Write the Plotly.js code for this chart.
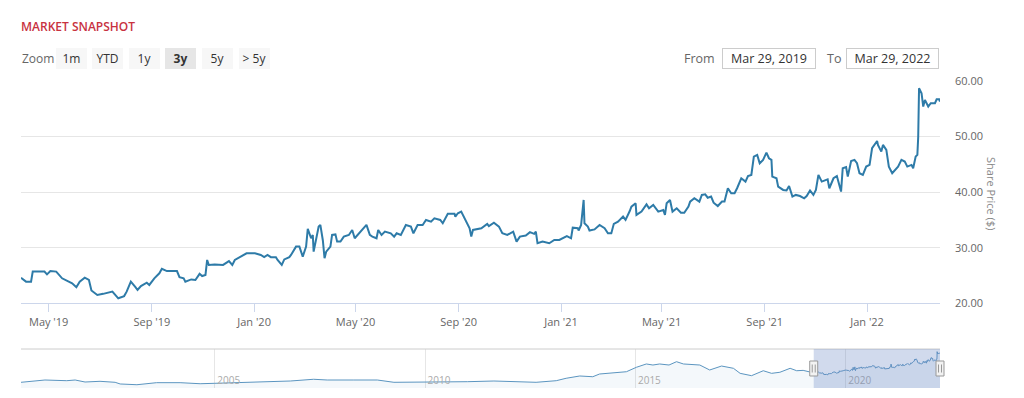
<!DOCTYPE html>
<html>
<head>
<meta charset="utf-8">
<script src="https://cdn.plot.ly/plotly-3.0.1.min.js"></script>
<style>
  html, body { margin: 0; padding: 0; background: #ffffff; }
  #chart { width: 1024px; height: 398px; }
</style>
</head>
<body>
<div id="chart"></div>
<script>
// ---------------- DATA ----------------
const chartTitle = "MARKET SNAPSHOT";
const yAxisTitle = "Share Price ($)";
const zoomButtons = ["1m", "YTD", "1y", "3y", "5y", "> 5y"];
const activeButton = "3y";
const rangeStart = "2019-03-29";
const rangeEnd = "2022-03-29";
const rangeStartLabel = "Mar 29, 2019";
const rangeEndLabel = "Mar 29, 2022";
const yTicks = [20, 30, 40, 50, 60];

// Main series (3y window)
const dates = [
"2019-03-29","2019-04-04","2019-04-10","2019-04-12","2019-04-26","2019-04-29","2019-05-03","2019-05-10","2019-05-17","2019-05-23",
"2019-05-29","2019-06-03","2019-06-07","2019-06-13","2019-06-18","2019-06-21","2019-06-28","2019-07-05","2019-07-16","2019-07-23",
"2019-07-30","2019-08-02","2019-08-07","2019-08-12","2019-08-15","2019-08-19","2019-08-26","2019-08-29","2019-09-04","2019-09-10",
"2019-09-13","2019-09-19","2019-10-01","2019-10-04","2019-10-09","2019-10-11","2019-10-18","2019-10-23","2019-10-28","2019-10-31",
"2019-11-04","2019-11-06","2019-11-08","2019-11-15","2019-11-25","2019-12-02","2019-12-06","2019-12-09","2019-12-16","2019-12-23",
"2020-01-02","2020-01-09","2020-01-13","2020-01-17","2020-01-21","2020-01-27","2020-01-29","2020-02-03","2020-02-06","2020-02-12",
"2020-02-14","2020-02-20","2020-02-24","2020-02-28","2020-03-03","2020-03-05","2020-03-09","2020-03-11","2020-03-12","2020-03-16",
"2020-03-18","2020-03-20","2020-03-23","2020-03-25","2020-03-27","2020-04-01","2020-04-03","2020-04-07","2020-04-09","2020-04-13",
"2020-04-17","2020-04-23","2020-04-27","2020-04-30","2020-05-05","2020-05-11","2020-05-14","2020-05-18","2020-05-21","2020-05-26",
"2020-05-28","2020-06-01","2020-06-05","2020-06-12","2020-06-16","2020-06-19","2020-06-24","2020-06-30","2020-07-06","2020-07-09",
"2020-07-14","2020-07-20","2020-07-24","2020-07-30","2020-08-03","2020-08-10","2020-08-13","2020-08-19","2020-08-27","2020-08-28",
"2020-08-31","2020-09-04","2020-09-08","2020-09-09","2020-09-14","2020-09-16","2020-09-18","2020-09-28","2020-10-05","2020-10-07",
"2020-10-13","2020-10-19","2020-10-23","2020-10-29","2020-11-05","2020-11-09","2020-11-13","2020-11-20","2020-11-25","2020-11-30",
"2020-12-02","2020-12-04","2020-12-10","2020-12-18","2020-12-24","2020-12-30","2021-01-05","2021-01-08","2021-01-13","2021-01-15",
"2021-01-21","2021-01-22","2021-01-25","2021-01-28","2021-01-29","2021-02-02","2021-02-04","2021-02-10","2021-02-16","2021-02-22",
"2021-02-26","2021-03-02","2021-03-05","2021-03-10","2021-03-16","2021-03-19","2021-03-24","2021-03-26","2021-03-31","2021-04-01",
"2021-04-07","2021-04-13","2021-04-16","2021-04-21","2021-04-27","2021-05-03","2021-05-05","2021-05-07","2021-05-11","2021-05-14",
"2021-05-19","2021-05-24","2021-05-28","2021-06-02","2021-06-04","2021-06-09","2021-06-15","2021-06-18","2021-06-22","2021-06-25",
"2021-06-29","2021-07-02","2021-07-07","2021-07-12","2021-07-15","2021-07-19","2021-07-23","2021-07-27","2021-07-30","2021-08-04",
"2021-08-09","2021-08-12","2021-08-16","2021-08-19","2021-08-23","2021-08-26","2021-08-30","2021-09-03","2021-09-06","2021-09-09",
"2021-09-10","2021-09-15","2021-09-17","2021-09-23","2021-09-27","2021-09-30","2021-10-04","2021-10-08","2021-10-13","2021-10-18",
"2021-10-21","2021-10-25","2021-10-29","2021-11-01","2021-11-04","2021-11-08","2021-11-15","2021-11-17","2021-11-22","2021-11-26",
"2021-12-01","2021-12-03","2021-12-07","2021-12-09","2021-12-13","2021-12-17","2021-12-20","2021-12-23","2021-12-27","2021-12-31",
"2022-01-04","2022-01-07","2022-01-13","2022-01-14","2022-01-18","2022-01-20","2022-01-24","2022-01-27","2022-01-31","2022-02-03",
"2022-02-07","2022-02-11","2022-02-15","2022-02-18","2022-02-23","2022-02-25","2022-02-28","2022-03-02","2022-03-03","2022-03-04",
"2022-03-07","2022-03-09","2022-03-11","2022-03-15","2022-03-18","2022-03-23","2022-03-25","2022-03-28","2022-03-29"
];
const prices = [
24.6,23.9,23.9,25.7,25.7,25.2,25.8,25.7,24.5,24.1,
23.6,22.9,23.9,24.6,24.2,22.3,21.5,21.7,22.1,20.9,
21.3,22.1,23.9,23.0,22.4,23.1,23.7,23.3,24.5,25.4,
26.2,25.8,25.8,24.7,24.5,23.9,24.3,24.2,25.3,24.9,
25.1,27.8,26.9,27.0,26.9,27.6,26.9,27.8,28.4,29.0,
29.0,28.7,28.3,28.7,28.3,28.3,27.8,26.9,27.9,28.3,
28.7,30.2,30.2,28.4,30.2,33.4,31.7,32.3,29.3,32.0,
33.8,34.1,31.3,28.1,29.3,30.2,32.3,32.4,31.1,31.1,
32.0,32.3,33.2,31.7,32.6,33.5,34.1,32.3,32.0,31.7,
33.2,32.3,32.9,32.6,32.0,32.6,32.3,34.1,33.8,32.6,
34.1,34.1,35.0,34.7,35.3,35.0,34.4,36.1,36.1,35.6,
36.2,36.5,35.3,35.0,33.5,32.0,33.2,33.5,34.3,33.9,
34.5,33.8,32.6,32.3,32.9,31.1,32.0,32.2,32.8,32.5,
32.9,30.8,31.1,30.8,31.4,31.4,31.9,32.1,31.7,33.6,
33.5,33.1,34.1,38.6,34.4,33.8,33.1,33.3,34.1,33.5,
32.6,32.6,34.3,34.7,35.6,35.0,36.6,37.4,38.0,35.9,
36.5,37.8,37.1,37.7,36.5,36.8,35.9,38.0,38.6,36.5,
37.1,36.3,36.3,37.4,38.3,38.9,38.3,39.5,39.6,39.0,
39.2,38.1,37.5,38.3,38.3,40.7,39.8,39.8,40.7,42.5,
41.9,42.9,43.1,46.4,46.7,45.2,45.8,47.1,46.1,45.8,
42.8,42.5,41.0,40.4,40.3,41.1,39.2,39.5,39.3,38.9,
39.3,40.3,39.5,40.4,43.1,41.9,42.3,40.7,42.5,42.9,
40.1,44.3,44.5,42.8,45.6,45.8,45.2,43.4,43.1,44.6,
44.9,47.9,49.2,48.5,47.3,48.5,47.6,44.6,43.4,44.0,
44.6,45.8,45.5,44.6,44.9,44.3,46.4,46.7,49.9,58.7,
57.8,55.4,56.6,55.4,56.0,56.0,56.7,56.7,56.3
];

// Earlier history shown only in the navigator
const historyDates = [
"2000-05-26","2000-11-06","2000-12-20","2001-06-27","2001-09-08","2001-12-03","2002-04-12","2002-08-21","2002-10-04","2003-02-26",
"2003-08-16","2004-03-07","2004-08-28","2005-01-03","2005-08-11","2006-04-03","2006-10-20","2007-05-10","2007-09-05","2008-04-23",
"2008-11-13","2009-04-06","2009-10-26","2010-03-18","2011-01-03","2011-08-22","2012-02-02","2012-08-22","2013-02-13","2013-05-10",
"2013-09-05","2013-12-27","2014-02-24","2014-06-20","2014-10-15","2015-01-09","2015-04-06","2015-06-02","2015-07-30","2015-10-20",
"2015-12-24","2016-02-22","2016-07-13","2016-10-07","2017-01-18","2017-05-01","2017-06-28","2017-10-05","2018-01-15","2018-03-28",
"2018-06-08","2018-09-05","2018-11-01","2018-12-27"
];
const historyPrices = [
9.2,11.8,12.9,11.8,12.9,9.7,10.8,9.2,6.5,5.3,
8.6,8.6,6.9,7.6,8.6,9.2,11.3,14.1,12.9,12.9,
12.9,9.2,9.2,9.2,10.2,11.3,10.2,9.2,11.8,15.7,
19.4,18.2,22.6,24.7,26.3,33.4,38.8,37.1,38.8,37.1,
42.5,38.8,37.1,29.1,35.5,31.8,23.7,19.9,27.9,23.7,
25.4,31.8,27.9,28.5
];

// ---------------- LAYOUT HELPERS ----------------
const W = 1024, H = 398;
const M = { l: 21, r: 84, t: 81, b: 10 };
const PW = W - M.l - M.r, PH = H - M.t - M.b;
const px = X => (X - M.l) / PW;           // page pixel -> paper x
const py = Y => (H - M.b - Y) / PH;       // page pixel -> paper y

const mainBottom = py(303.3);
const navTop = py(349);

const FONT = "Open Sans, Lato, sans-serif";

const navDates = historyDates.concat(dates);
const navPrices = historyPrices.concat(prices);

const traces = [
  {
    x: dates, y: prices, type: "scatter", mode: "lines",
    xaxis: "x", yaxis: "y",
    line: { color: "#2e7ba8", width: 2 },
    hoverinfo: "skip"
  },
  {
    x: navDates, y: navPrices, type: "scatter", mode: "lines",
    xaxis: "x2", yaxis: "y2",
    fill: "tozeroy", fillcolor: "rgba(46,123,168,0.05)",
    line: { color: "#5b95c0", width: 1 },
    hoverinfo: "skip"
  }
];

// Navigator handle positions from data dates
const t0 = new Date(navDates[0]).getTime();
const t1 = new Date(navDates[navDates.length - 1]).getTime();
const frac = d => (new Date(d).getTime() - t0) / (t1 - t0);

const shapes = [
  { type: "line", xref: "paper", yref: "paper", x0: 0, x1: 1, y0: navTop, y1: navTop,
    line: { color: "#cccccc", width: 1 } },
  { type: "rect", xref: "x2", yref: "paper", x0: rangeStart, x1: rangeEnd, y0: 0, y1: navTop,
    fillcolor: "rgba(102,133,194,0.3)", line: { width: 0 }, layer: "above" }
];
[rangeStart, rangeEnd].forEach(d => {
  const fx = frac(d);
  const cy = navTop / 2;
  shapes.push({ type: "rect", xref: "paper", yref: "paper", xsizemode: "pixel", ysizemode: "pixel",
    xanchor: fx, yanchor: cy, x0: -4, x1: 4, y0: -7.5, y1: 7.5,
    fillcolor: "#f2f2f2", line: { color: "#999999", width: 1 }, layer: "above" });
  [-1.5, 1.5].forEach(o => shapes.push({ type: "line", xref: "paper", yref: "paper", xsizemode: "pixel", ysizemode: "pixel",
    xanchor: fx, yanchor: cy, x0: o, x1: o, y0: -4, y1: 4,
    line: { color: "#999999", width: 1 }, layer: "above" }));
});

const annotations = [];
const rowY = py(58.2);
annotations.push({ text: "Zoom", xref: "paper", yref: "paper", x: px(20), y: rowY,
  xanchor: "left", yanchor: "middle", showarrow: false, font: { family: FONT, size: 12, color: "#666666" } });
zoomButtons.forEach((b, i) => {
  const active = b === activeButton;
  annotations.push({
    text: active ? "<b>" + b + "</b>" : b,
    xref: "paper", yref: "paper", x: px(71 + i * 36.65), y: rowY,
    xanchor: "center", yanchor: "middle", showarrow: false,
    width: 30, height: 20, borderpad: 0.5, borderwidth: 0,
    bgcolor: active ? "#e6e6e6" : "#f7f7f7",
    font: { family: FONT, size: 12, color: "#333333" }
  });
});
annotations.push({ text: "From", xref: "paper", yref: "paper", x: px(717), y: rowY,
  xanchor: "right", yanchor: "middle", showarrow: false, font: { family: FONT, size: 12.5, color: "#666666" } });
annotations.push({ text: rangeStartLabel, xref: "paper", yref: "paper", x: px(768.7), y: rowY,
  xanchor: "center", yanchor: "middle", showarrow: false, width: 92, height: 19, borderpad: 0,
  bgcolor: "#ffffff", bordercolor: "#cccccc", borderwidth: 1,
  font: { family: FONT, size: 12.5, color: "#333333" } });
annotations.push({ text: "To", xref: "paper", yref: "paper", x: px(834), y: rowY,
  xanchor: "center", yanchor: "middle", showarrow: false, font: { family: FONT, size: 12.5, color: "#666666" } });
annotations.push({ text: rangeEndLabel, xref: "paper", yref: "paper", x: px(892.5), y: rowY,
  xanchor: "center", yanchor: "middle", showarrow: false, width: 91, height: 19, borderpad: 0,
  bgcolor: "#ffffff", bordercolor: "#cccccc", borderwidth: 1,
  font: { family: FONT, size: 12.5, color: "#333333" } });
annotations.push({ text: yAxisTitle, xref: "paper", yref: "paper", x: px(992), y: py(193),
  xanchor: "center", yanchor: "middle", textangle: 90, showarrow: false,
  font: { family: FONT, size: 11, color: "#888888" } });

const layout = {
  width: W, height: H,
  margin: M,
  paper_bgcolor: "#ffffff", plot_bgcolor: "#ffffff",
  showlegend: false,
  title: { text: chartTitle, x: 21 / W, xanchor: "left", xref: "container",
    y: 1 - 26.7 / H, yanchor: "middle", yref: "container",
    font: { family: FONT, size: 12, weight: 600, color: "#c8323f" } },
  font: { family: FONT },
  xaxis: {
    type: "date", domain: [0, 1], anchor: "y",
    range: [rangeStart, rangeEnd],
    tick0: "2019-01-01", dtick: "M4", tickformat: "%b '%y",
    ticks: "outside", ticklen: 8, tickwidth: 1, tickcolor: "#ccd6eb",
    showline: true, linecolor: "#ccd6eb", linewidth: 1,
    showgrid: false, zeroline: false,
    tickfont: { family: FONT, size: 11, color: "#666666" }
  },
  yaxis: {
    domain: [mainBottom, 1], anchor: "x", side: "right",
    range: [yTicks[0], yTicks[yTicks.length - 1]],
    tickvals: yTicks, tickformat: ".2f",
    showgrid: true, gridcolor: "#e6e6e6", gridwidth: 1,
    zeroline: false, showline: false, ticks: "",
    ticklabelstandoff: 14,
    tickfont: { family: FONT, size: 11, color: "#666666" }
  },
  xaxis2: {
    type: "date", domain: [0, 1], anchor: "y2",
    range: [navDates[0], navDates[navDates.length - 1]],
    tick0: "2005-01-01", dtick: "M60", tickformat: "%Y",
    showgrid: true, gridcolor: "#e6e6e6", gridwidth: 1,
    ticks: "", showline: false, zeroline: false,
    ticklabelposition: "inside", ticklabelshift: 14, ticklabelstandoff: -1,
    tickfont: { family: FONT, size: 10, color: "#aaaaaa" }
  },
  yaxis2: {
    domain: [0, navTop], anchor: "x2",
    range: [0, 63],
    showgrid: false, zeroline: false, showline: false, showticklabels: false, ticks: ""
  },
  shapes: shapes,
  annotations: annotations
};

Plotly.newPlot("chart", traces, layout, { staticPlot: true, displayModeBar: false });
</script>
</body>
</html>
